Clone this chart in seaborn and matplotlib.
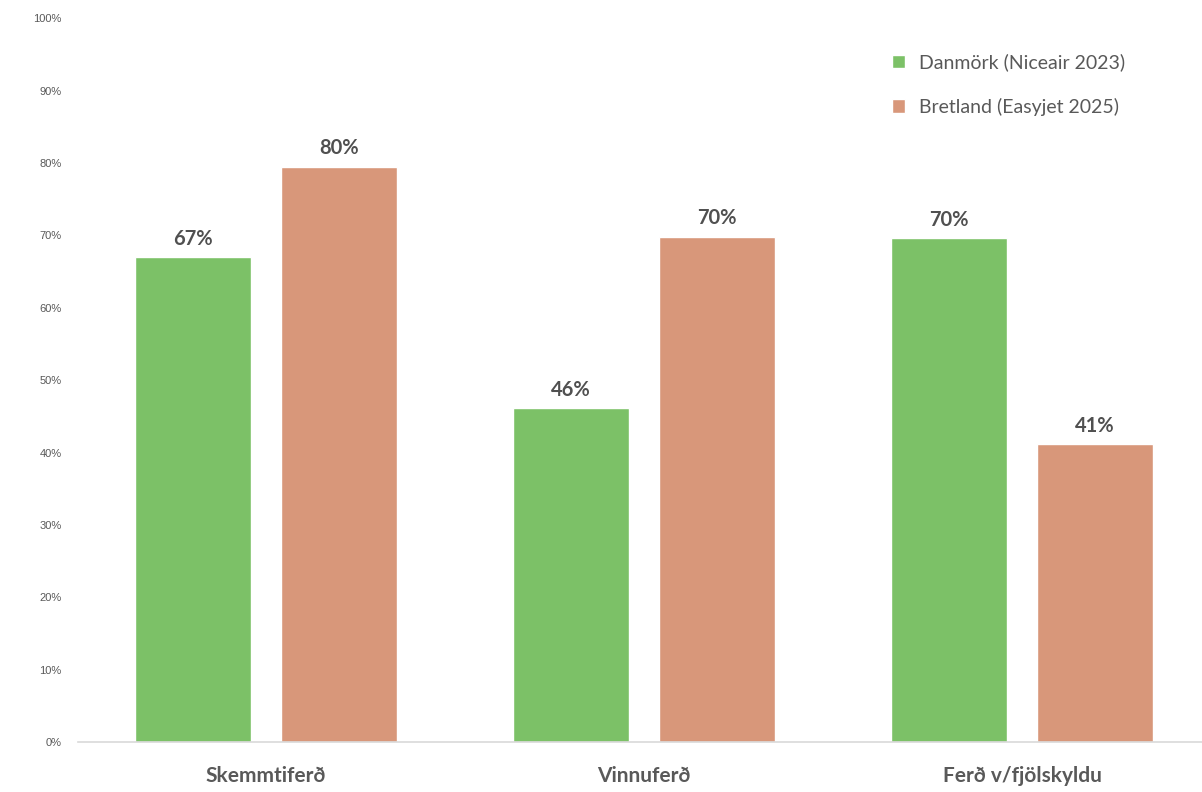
import pandas as pd
import seaborn as sns
import matplotlib.pyplot as plt
from matplotlib.ticker import PercentFormatter

# Values (percent)
categories = ['Skemmtiferð', 'Vinnuferð', 'Ferð v/fjölskyldu']
series = ['Danmörk (Niceair 2023)', 'Bretland (Easyjet 2025)']
denmark = [67.0, 46.1, 69.6]
britain = [79.5, 69.8, 41.2]
colors = ['#7CC167', '#D8977A']

df = pd.DataFrame({
    'category': categories * 2,
    'series': [series[0]] * 3 + [series[1]] * 3,
    'value': denmark + britain,
})

sns.set_theme(style='white')
plt.rcParams['font.family'] = ['Lato', 'DejaVu Sans']

fig = plt.figure(figsize=(12.02, 7.92), dpi=100)
ax = fig.add_axes([0.065, 0.063, 0.935, 0.914])

sns.barplot(data=df, x='category', y='value', hue='series', order=categories,
            hue_order=series, palette=colors, width=0.774, gap=0.21,
            saturation=1, ax=ax, legend=True)

for container in ax.containers:
    ax.bar_label(container, labels=[f'{v:.0f}%' for v in container.datavalues],
                 padding=6, fontsize=14.5, fontweight='bold', color='#505050')

ax.set_ylim(0, 100)
ax.set_xlim(-0.497, 2.476)
ax.set_yticks(range(0, 101, 10))
ax.yaxis.set_major_formatter(PercentFormatter(decimals=0))
ax.tick_params(axis='y', length=0, labelsize=8, labelcolor='#595959', pad=12)
for t in ax.get_yticklabels():
    t.set_fontfamily(['Liberation Sans', 'DejaVu Sans'])
ax.tick_params(axis='x', length=0, labelsize=15, labelcolor='#595959', pad=17)
for t in ax.get_xticklabels():
    t.set_fontweight('bold')
ax.set_xlabel('')
ax.set_ylabel('')

for side in ['top', 'right', 'left']:
    ax.spines[side].set_visible(False)
ax.spines['bottom'].set_color('#D9D9D9')
ax.spines['bottom'].set_linewidth(1.2)

handles, labels = ax.get_legend_handles_labels()
ax.legend(handles, labels, loc='upper left', bbox_to_anchor=(874 / 1202, 1 - 36 / 792),
          bbox_transform=fig.transFigure, frameon=False, fontsize=14,
          handlelength=0.7, handleheight=0.7, handletextpad=0.7,
          labelspacing=1.35, labelcolor='#595959')

fig.savefig('out.png', dpi=100)
